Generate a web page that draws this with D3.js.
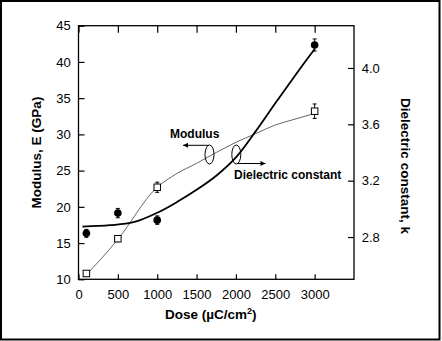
<!DOCTYPE html>
<html><head><meta charset="utf-8">
<script src="https://cdn.jsdelivr.net/npm/d3@7/dist/d3.min.js"></script>
<style>
html,body{margin:0;padding:0;background:#fff;}
svg{display:block;font-family:"Liberation Sans",Arial,Helvetica,sans-serif;}
</style></head>
<body><svg id="c" width="442" height="341"></svg>
<script>
// Data
const doses = [100, 500, 1000, 3000];
const modulus = [10.8, 15.6, 22.7, 33.2];          // GPa (open squares)
const modulusErr = [0.3, 0.4, 0.7, 1.0];
const dielectric = [2.826, 2.97, 2.92, 4.163];     // k (filled circles)
const dielectricErr = [0.028, 0.033, 0.03, 0.043];
// fitted curves
const modFitDose = [80, 500, 980, 1250, 1500, 1750, 2000, 2250, 2500, 2750, 3000];
const modFitVal  = [10.4, 15.5, 22.5, 24.6, 26.0, 27.5, 28.9, 30.1, 31.3, 32.1, 32.9];
const kFitDose = [50, 400, 700, 1000, 1250, 1500, 1750, 2000, 2250, 2500, 2750, 3000];
const kFitVal  = [2.874, 2.884, 2.905, 2.972, 3.048, 3.135, 3.235, 3.365, 3.55, 3.75, 3.945, 4.135];
const xTicks = [0, 500, 1000, 1500, 2000, 2500, 3000];
const yLeftTicks = [10, 15, 20, 25, 30, 35, 40, 45];
const yRightTicks = [2.8, 3.2, 3.6, 4.0];

const svg = d3.select("#c");
const L = 78.5, R = 354, T = 25.7, B = 279.3;
const x = d3.scaleLinear().domain([0, 3500]).range([L, R]);
const yL = d3.scaleLinear().domain([10, 45]).range([B, T]);
const yR = d3.scaleLinear().domain([2.5, 4.3]).range([B, T]);

// outer frame
svg.append("rect").attr("x", 1).attr("y", 1).attr("width", 438.5).attr("height", 338.5)
  .attr("fill", "none").attr("stroke", "#000").attr("stroke-width", 2);

function styleAxis(g){
  g.select(".domain").remove();
  g.selectAll(".tick line").attr("stroke", "#000").attr("stroke-width", 1.2);
  g.selectAll("text").attr("font-size", 13).attr("fill", "#000")
    .attr("font-family", "'Liberation Sans', Arial, sans-serif");
}
svg.append("g").attr("transform", `translate(0,${B})`)
  .call(d3.axisBottom(x).tickValues(xTicks).tickSizeInner(-5).tickSizeOuter(0).tickPadding(10.5).tickFormat(d3.format("d")))
  .call(styleAxis);
svg.append("g").attr("transform", `translate(0,${T})`)
  .call(d3.axisTop(x).tickValues(xTicks).tickSizeInner(-7).tickSizeOuter(0).tickFormat(""))
  .call(styleAxis);
svg.append("g").attr("transform", `translate(${L},0)`)
  .call(d3.axisLeft(yL).tickValues(yLeftTicks).tickSizeInner(-6).tickSizeOuter(0).tickPadding(7.8).tickFormat(d3.format("d")))
  .call(styleAxis);
svg.append("g").attr("transform", `translate(${R},0)`)
  .call(d3.axisRight(yR).tickValues(yRightTicks).tickSizeInner(-6).tickSizeOuter(0).tickPadding(7.7).tickFormat(d3.format(".1f")))
  .call(styleAxis);

// plot frame
svg.append("rect").attr("x", L).attr("y", T).attr("width", R - L).attr("height", B - T)
  .attr("fill", "none").attr("stroke", "#000").attr("stroke-width", 1.3);

// fit curves
const modLine = d3.line().x(d => x(d[0])).y(d => yL(d[1])).curve(d3.curveMonotoneX);
svg.append("path").datum(d3.zip(modFitDose, modFitVal)).attr("d", modLine)
  .attr("fill", "none").attr("stroke", "#666").attr("stroke-width", 1);
const kLine = d3.line().x(d => x(d[0])).y(d => yR(d[1])).curve(d3.curveCatmullRom);
svg.append("path").datum(d3.zip(kFitDose, kFitVal)).attr("d", kLine)
  .attr("fill", "none").attr("stroke", "#000").attr("stroke-width", 1.8);

// error bars
const cap = 2;
const modPts = doses.map((d, i) => ({d, v: modulus[i], e: modulusErr[i]}));
const kPts = doses.map((d, i) => ({d, v: dielectric[i], e: dielectricErr[i]}));
function errBars(pts, y){
  const g = svg.append("g").attr("stroke", "#000").attr("stroke-width", 1);
  pts.forEach(p => {
    const cx = x(p.d), y1 = y(p.v + p.e), y2 = y(p.v - p.e);
    g.append("line").attr("x1", cx).attr("x2", cx).attr("y1", y1).attr("y2", y2);
    g.append("line").attr("x1", cx - cap).attr("x2", cx + cap).attr("y1", y1).attr("y2", y1);
    g.append("line").attr("x1", cx - cap).attr("x2", cx + cap).attr("y1", y2).attr("y2", y2);
  });
}
errBars(kPts, yR);
errBars(modPts, yL);

// markers
svg.append("g").selectAll("circle").data(kPts).join("circle")
  .attr("cx", p => x(p.d)).attr("cy", p => yR(p.v)).attr("r", 3.8).attr("fill", "#000");
const s = 6.5;
svg.append("g").selectAll("rect").data(modPts).join("rect")
  .attr("x", p => x(p.d) - s / 2).attr("y", p => yL(p.v) - s / 2).attr("width", s).attr("height", s)
  .attr("fill", "#fff").attr("stroke", "#000").attr("stroke-width", 1);

// annotations
const defs = svg.append("defs");
defs.append("marker").attr("id", "ah").attr("viewBox", "0 0 10 10").attr("refX", 10).attr("refY", 5)
  .attr("markerWidth", 8).attr("markerHeight", 5).attr("markerUnits", "userSpaceOnUse").attr("orient", "auto")
  .append("path").attr("d", "M0,0L10,5L0,10Z").attr("fill", "#000");
svg.append("ellipse").attr("cx", 209.5).attr("cy", 154.5).attr("rx", 4.5).attr("ry", 9.5)
  .attr("fill", "none").attr("stroke", "#000").attr("stroke-width", 1);
svg.append("ellipse").attr("cx", 236.3).attr("cy", 154.5).attr("rx", 4.5).attr("ry", 9.5)
  .attr("fill", "none").attr("stroke", "#000").attr("stroke-width", 1);
svg.append("line").attr("x1", 209).attr("y1", 145.3).attr("x2", 183).attr("y2", 145.3)
  .attr("stroke", "#000").attr("stroke-width", 1).attr("marker-end", "url(#ah)");
svg.append("line").attr("x1", 237).attr("y1", 163.5).attr("x2", 265.5).attr("y2", 163.5)
  .attr("stroke", "#000").attr("stroke-width", 1).attr("marker-end", "url(#ah)");
svg.append("text").attr("x", 194.7).attr("y", 138.3).attr("text-anchor", "middle")
  .attr("font-size", 12).attr("font-weight", "bold").text("Modulus");
svg.append("text").attr("x", 234).attr("y", 178.5).attr("text-anchor", "start")
  .attr("font-size", 12).attr("font-weight", "bold").text("Dielectric constant");

// axis titles
const xt = svg.append("text").attr("x", 210.7).attr("y", 318.5).attr("text-anchor", "middle")
  .attr("font-size", 13.5).attr("font-weight", "bold");
xt.append("tspan").text("Dose (\u00B5C/cm");
xt.append("tspan").attr("font-size", 9).attr("dy", -5).text("2");
xt.append("tspan").attr("dy", 5).text(")");
svg.append("text").attr("transform", "translate(40.5,152.5) rotate(-90)").attr("text-anchor", "middle")
  .attr("font-size", 13.5).attr("font-weight", "bold").text("Modulus, E (GPa)");
svg.append("text").attr("transform", "translate(401,166) rotate(90)").attr("text-anchor", "middle")
  .attr("font-size", 13.5).attr("font-weight", "bold").text("Dielectric constant, k");
</script></body></html>
